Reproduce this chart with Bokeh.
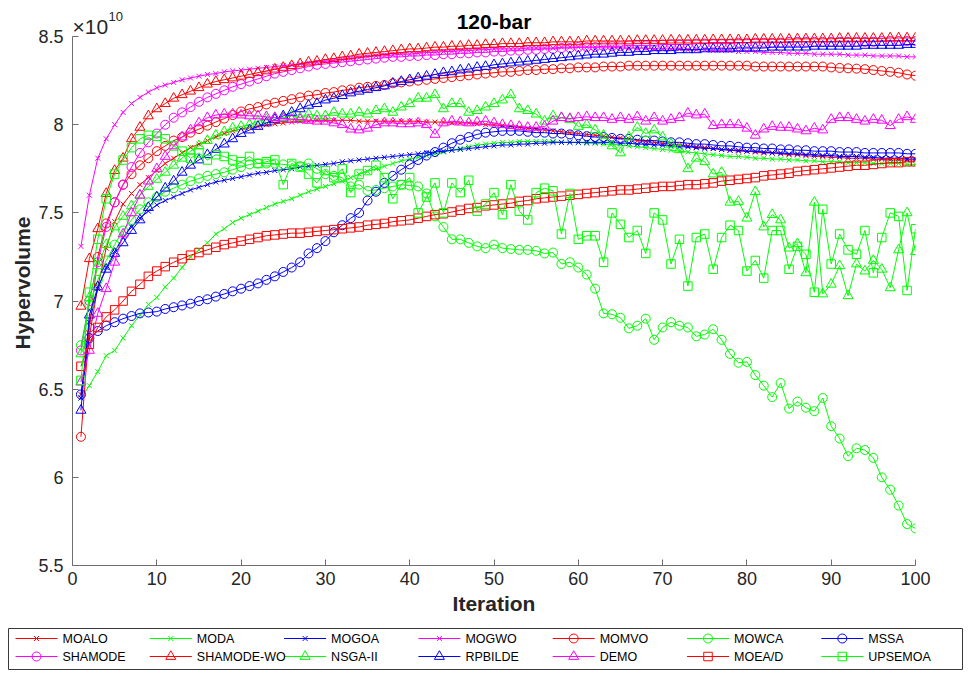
from bokeh.plotting import figure
from bokeh.models import FixedTicker, Range1d
from bokeh.layouts import column
from bokeh.embed import file_html
from bokeh.resources import INLINE
from bokeh.core.properties import value

# ---------------- data (hypervolume in units of 1e10) ----------------
iterations = list(range(1, 101))
x_ticks = [0, 10, 20, 30, 40, 50, 60, 70, 80, 90, 100]
y_ticks = [5.5, 6.0, 6.5, 7.0, 7.5, 8.0, 8.5]
y_tick_labels = ["5.5", "6", "6.5", "7", "7.5", "8", "8.5"]
chart_title = "120-bar"
exponent_base = "\u00d710"
exponent_power = "10"

moalo = [6.47, 6.80, 7.08, 7.30, 7.45, 7.55, 7.61, 7.66, 7.70, 7.74,
         7.78, 7.81, 7.84, 7.87, 7.89, 7.91, 7.93, 7.95, 7.965, 7.975,
         7.985, 7.99, 8.0, 8.005, 8.01, 8.015, 8.02, 8.02, 8.025, 8.025,
         8.025, 8.025, 8.025, 8.02, 8.02, 8.02, 8.02, 8.02, 8.02, 8.02,
         8.02, 8.015, 8.015, 8.015, 8.01, 8.01, 8.01, 8.005, 8.0, 8.0,
         7.995, 7.99, 7.985, 7.98, 7.975, 7.97, 7.965, 7.96, 7.955, 7.95,
         7.945, 7.94, 7.935, 7.93, 7.925, 7.92, 7.91, 7.905, 7.90, 7.895,
         7.89, 7.885, 7.88, 7.875, 7.87, 7.865, 7.86, 7.855, 7.85, 7.85,
         7.845, 7.84, 7.84, 7.835, 7.83, 7.83, 7.825, 7.82, 7.82, 7.815,
         7.815, 7.81, 7.81, 7.81, 7.805, 7.805, 7.80, 7.80, 7.80, 7.80]
moda = [6.45, 6.52, 6.60, 6.69, 6.72, 6.79, 6.86, 6.92, 6.98, 7.02,
        7.08, 7.13, 7.19, 7.25, 7.29, 7.33, 7.38, 7.41, 7.445, 7.47,
        7.49, 7.51, 7.53, 7.55, 7.565, 7.58, 7.60, 7.62, 7.635, 7.65,
        7.665, 7.68, 7.70, 7.72, 7.735, 7.75, 7.765, 7.78, 7.795, 7.805,
        7.815, 7.825, 7.835, 7.845, 7.855, 7.865, 7.875, 7.885, 7.89, 7.895,
        7.90, 7.90, 7.905, 7.905, 7.905, 7.905, 7.905, 7.90, 7.90, 7.90,
        7.895, 7.895, 7.89, 7.89, 7.885, 7.88, 7.875, 7.87, 7.865, 7.86,
        7.855, 7.85, 7.845, 7.84, 7.835, 7.83, 7.825, 7.82, 7.82, 7.815,
        7.81, 7.81, 7.805, 7.805, 7.80, 7.80, 7.795, 7.795, 7.79, 7.79,
        7.79, 7.785, 7.785, 7.785, 7.78, 7.78, 7.78, 7.78, 7.775, 7.775]
mogoa = [6.45, 6.88, 7.07, 7.19, 7.28, 7.36, 7.42, 7.47, 7.51, 7.545,
         7.57, 7.59, 7.61, 7.63, 7.645, 7.66, 7.675, 7.685, 7.695, 7.705,
         7.715, 7.725, 7.73, 7.74, 7.745, 7.75, 7.76, 7.765, 7.77, 7.775,
         7.78, 7.79, 7.795, 7.80, 7.805, 7.81, 7.815, 7.82, 7.825, 7.83,
         7.835, 7.84, 7.845, 7.85, 7.855, 7.86, 7.865, 7.87, 7.875, 7.88,
         7.885, 7.885, 7.89, 7.89, 7.895, 7.895, 7.90, 7.90, 7.90, 7.90,
         7.90, 7.90, 7.90, 7.90, 7.895, 7.895, 7.89, 7.89, 7.885, 7.885,
         7.88, 7.875, 7.875, 7.87, 7.865, 7.865, 7.86, 7.855, 7.855, 7.85,
         7.85, 7.845, 7.84, 7.84, 7.835, 7.835, 7.83, 7.83, 7.825, 7.825,
         7.82, 7.82, 7.82, 7.815, 7.815, 7.81, 7.81, 7.81, 7.805, 7.805]
mogwo = [7.31, 7.60, 7.81, 7.92, 8.00, 8.07, 8.12, 8.155, 8.185, 8.21,
         8.225, 8.24, 8.255, 8.265, 8.275, 8.285, 8.29, 8.30, 8.305, 8.31,
         8.315, 8.32, 8.325, 8.33, 8.335, 8.34, 8.345, 8.35, 8.355, 8.36,
         8.365, 8.37, 8.375, 8.38, 8.385, 8.39, 8.39, 8.395, 8.40, 8.40,
         8.405, 8.41, 8.41, 8.415, 8.415, 8.42, 8.42, 8.425, 8.425, 8.43,
         8.43, 8.43, 8.43, 8.435, 8.435, 8.435, 8.435, 8.44, 8.44, 8.44,
         8.44, 8.44, 8.44, 8.44, 8.435, 8.435, 8.435, 8.435, 8.43, 8.43,
         8.43, 8.43, 8.425, 8.425, 8.425, 8.42, 8.42, 8.42, 8.415, 8.415,
         8.415, 8.41, 8.41, 8.41, 8.405, 8.405, 8.405, 8.40, 8.40, 8.40,
         8.40, 8.395, 8.395, 8.395, 8.39, 8.39, 8.39, 8.39, 8.385, 8.385]
momvo = [6.23, 6.85, 7.25, 7.44, 7.56, 7.66, 7.72, 7.77, 7.81, 7.85,
         7.88, 7.91, 7.93, 7.955, 7.975, 7.995, 8.015, 8.035, 8.055, 8.075,
         8.09, 8.10, 8.115, 8.125, 8.135, 8.145, 8.155, 8.165, 8.17, 8.18,
         8.185, 8.195, 8.20, 8.21, 8.215, 8.22, 8.225, 8.235, 8.24, 8.245,
         8.25, 8.255, 8.26, 8.265, 8.27, 8.275, 8.28, 8.285, 8.29, 8.295,
         8.30, 8.30, 8.305, 8.31, 8.31, 8.315, 8.315, 8.32, 8.32, 8.325,
         8.325, 8.325, 8.33, 8.33, 8.33, 8.335, 8.335, 8.335, 8.335, 8.335,
         8.335, 8.335, 8.335, 8.335, 8.335, 8.335, 8.335, 8.335, 8.335, 8.335,
         8.33, 8.33, 8.33, 8.33, 8.33, 8.33, 8.33, 8.33, 8.33, 8.325,
         8.322, 8.32, 8.318, 8.315, 8.31, 8.305, 8.30, 8.295, 8.285, 8.278]
mowca = [6.75, 6.98, 7.12, 7.23, 7.32, 7.40, 7.46, 7.52, 7.56, 7.59,
         7.62, 7.64, 7.66, 7.68, 7.695, 7.71, 7.72, 7.73, 7.745, 7.76,
         7.775, 7.78, 7.78, 7.78, 7.775, 7.77, 7.765, 7.78, 7.75, 7.72,
         7.71, 7.70, 7.65, 7.66, 7.625, 7.63, 7.64, 7.65, 7.66, 7.655,
         7.65, 7.61, 7.48, 7.42, 7.35, 7.35, 7.33, 7.31, 7.30, 7.32,
         7.30, 7.295, 7.29, 7.29, 7.285, 7.27, 7.275, 7.21, 7.22, 7.19,
         7.15, 7.07, 6.93, 6.925, 6.905, 6.845, 6.86, 6.90, 6.78, 6.85,
         6.88, 6.86, 6.85, 6.80, 6.81, 6.84, 6.78, 6.70, 6.65, 6.655,
         6.58, 6.52, 6.455, 6.535, 6.39, 6.43, 6.395, 6.375, 6.45, 6.29,
         6.22, 6.12, 6.165, 6.155, 6.11, 6.00, 5.93, 5.84, 5.735, 5.71]
mssa = [6.47, 6.79, 6.83, 6.86, 6.88, 6.90, 6.915, 6.93, 6.935, 6.94,
        6.955, 6.965, 6.975, 6.985, 7.0, 7.01, 7.025, 7.04, 7.055, 7.07,
        7.085, 7.10, 7.12, 7.14, 7.165, 7.19, 7.22, 7.27, 7.30, 7.34,
        7.39, 7.43, 7.47, 7.50, 7.57, 7.62, 7.67, 7.71, 7.745, 7.775,
        7.80, 7.825, 7.845, 7.87, 7.895, 7.915, 7.93, 7.945, 7.955, 7.96,
        7.965, 7.965, 7.965, 7.96, 7.955, 7.955, 7.95, 7.95, 7.945, 7.94,
        7.935, 7.93, 7.93, 7.925, 7.92, 7.92, 7.915, 7.91, 7.91, 7.905,
        7.90, 7.90, 7.895, 7.89, 7.89, 7.885, 7.88, 7.88, 7.875, 7.87,
        7.87, 7.865, 7.865, 7.86, 7.86, 7.855, 7.855, 7.85, 7.85, 7.85,
        7.845, 7.845, 7.845, 7.84, 7.84, 7.84, 7.84, 7.84, 7.835, 7.835]
shamode = [6.72, 7.00, 7.22, 7.42, 7.56, 7.66, 7.76, 7.84, 7.90, 7.95,
           8.0, 8.04, 8.07, 8.10, 8.13, 8.155, 8.175, 8.195, 8.215, 8.23,
           8.245, 8.26, 8.275, 8.29, 8.30, 8.31, 8.32, 8.33, 8.34, 8.345,
           8.35, 8.355, 8.36, 8.365, 8.37, 8.375, 8.38, 8.385, 8.385, 8.39,
           8.39, 8.395, 8.395, 8.40, 8.40, 8.405, 8.405, 8.41, 8.41, 8.415,
           8.415, 8.42, 8.42, 8.425, 8.425, 8.43, 8.43, 8.435, 8.435, 8.44,
           8.44, 8.44, 8.445, 8.445, 8.445, 8.45, 8.45, 8.45, 8.45, 8.455,
           8.455, 8.455, 8.455, 8.46, 8.46, 8.46, 8.46, 8.46, 8.465, 8.465,
           8.465, 8.465, 8.465, 8.465, 8.47, 8.47, 8.47, 8.47, 8.47, 8.47,
           8.47, 8.47, 8.47, 8.47, 8.47, 8.475, 8.475, 8.475, 8.475, 8.475]
shamode_wo = [6.97, 7.24, 7.41, 7.61, 7.74, 7.81, 7.92, 7.985, 8.05, 8.09,
              8.12, 8.15, 8.17, 8.19, 8.21, 8.23, 8.245, 8.255, 8.265, 8.275,
              8.285, 8.295, 8.305, 8.315, 8.325, 8.335, 8.345, 8.355, 8.36, 8.37,
              8.375, 8.385, 8.39, 8.40, 8.405, 8.41, 8.415, 8.42, 8.425, 8.43,
              8.43, 8.435, 8.44, 8.44, 8.445, 8.445, 8.45, 8.45, 8.455, 8.455,
              8.46, 8.46, 8.46, 8.465, 8.465, 8.465, 8.47, 8.47, 8.47, 8.47,
              8.475, 8.475, 8.475, 8.475, 8.475, 8.475, 8.478, 8.478, 8.478, 8.478,
              8.48, 8.48, 8.48, 8.48, 8.48, 8.482, 8.482, 8.482, 8.482, 8.482,
              8.485, 8.485, 8.485, 8.485, 8.485, 8.487, 8.487, 8.487, 8.487, 8.487,
              8.49, 8.49, 8.49, 8.49, 8.49, 8.49, 8.492, 8.492, 8.492, 8.492]
nsga2 = [6.70, 7.02, 7.20, 7.32, 7.42, 7.48, 7.54, 7.60, 7.65, 7.69,
         7.73, 7.77, 7.81, 7.85, 7.88, 7.91, 7.94, 7.96, 7.98, 7.99,
         8.00, 8.02, 8.03, 8.04, 8.04, 8.05, 8.04, 8.06, 8.05, 8.05,
         8.07, 8.06, 8.06, 8.07, 8.06, 8.08, 8.09, 8.07, 8.10, 8.12,
         8.15, 8.15, 8.17, 8.09, 8.12, 8.12, 8.07, 8.08, 8.10, 8.12,
         8.14, 8.17, 8.09, 8.08, 8.06, 8.02, 8.05, 8.04, 8.03, 7.99,
         8.00, 7.97, 7.94, 7.88, 7.84, 7.93, 7.985, 7.95, 7.97, 7.93,
         7.89, 7.86, 7.75, 7.81, 7.79, 7.72, 7.73, 7.56, 7.565, 7.47,
         7.62, 7.42, 7.49, 7.46, 7.30, 7.325, 7.16, 7.56, 7.04, 7.095,
         7.20, 7.03, 7.21, 7.17, 7.23, 7.18, 7.075, 7.29, 7.50, 7.28]
rpbilde = [6.38, 6.92, 7.08, 7.18, 7.27, 7.33, 7.40, 7.46, 7.53, 7.59,
           7.64, 7.68, 7.73, 7.77, 7.80, 7.83, 7.86, 7.89, 7.92, 7.95,
           7.97, 7.99, 8.01, 8.03, 8.05, 8.07, 8.09, 8.11, 8.12, 8.14,
           8.15, 8.165, 8.18, 8.19, 8.20, 8.21, 8.22, 8.235, 8.245, 8.255,
           8.265, 8.275, 8.285, 8.295, 8.30, 8.31, 8.315, 8.325, 8.33, 8.34,
           8.345, 8.35, 8.355, 8.36, 8.365, 8.37, 8.375, 8.38, 8.385, 8.39,
           8.395, 8.40, 8.40, 8.405, 8.41, 8.41, 8.415, 8.415, 8.42, 8.42,
           8.42, 8.425, 8.425, 8.425, 8.43, 8.43, 8.43, 8.43, 8.435, 8.435,
           8.435, 8.435, 8.44, 8.44, 8.44, 8.44, 8.44, 8.445, 8.445, 8.445,
           8.445, 8.445, 8.445, 8.45, 8.45, 8.45, 8.45, 8.45, 8.455, 8.455]
demo = [6.54, 6.72, 6.93, 7.07, 7.22, 7.38, 7.50, 7.60, 7.68, 7.75,
        7.82, 7.88, 7.93, 7.97, 8.01, 8.04, 8.055, 8.06, 8.06, 8.055,
        8.05, 8.05, 8.045, 8.04, 8.035, 8.03, 8.03, 8.025, 8.02, 8.02,
        8.01, 8.0, 7.975, 7.97, 7.98, 8.0, 8.01, 8.01, 8.005, 8.005,
        8.01, 8.0, 7.945, 8.01, 8.02, 8.015, 8.01, 8.015, 8.02, 8.01,
        8.0, 7.995, 7.99, 7.985, 7.985, 7.99, 8.02, 8.04, 8.035, 8.04,
        8.045, 8.04, 8.04, 8.03, 8.04, 8.03, 8.045, 8.02, 8.04, 8.02,
        8.03, 8.04, 8.065, 8.055, 8.06, 7.995, 8.0, 8.0, 8.0, 7.98,
        7.94, 7.975, 7.99, 7.985, 7.985, 7.975, 7.965, 7.98, 7.97, 8.03,
        8.04, 8.04, 8.03, 8.02, 8.03, 8.025, 7.995, 8.03, 8.045, 8.03]
moead = [6.63, 6.755, 6.85, 6.91, 6.95, 7.0, 7.055, 7.095, 7.14, 7.17,
         7.195, 7.22, 7.24, 7.26, 7.275, 7.29, 7.305, 7.32, 7.33, 7.34,
         7.35, 7.36, 7.37, 7.375, 7.38, 7.385, 7.385, 7.39, 7.395, 7.40,
         7.405, 7.41, 7.415, 7.42, 7.43, 7.435, 7.44, 7.45, 7.455, 7.46,
         7.47, 7.48, 7.49, 7.495, 7.505, 7.515, 7.525, 7.53, 7.54, 7.545,
         7.55, 7.555, 7.565, 7.57, 7.58, 7.585, 7.59, 7.595, 7.60, 7.605,
         7.61, 7.615, 7.62, 7.625, 7.63, 7.63, 7.635, 7.64, 7.645, 7.65,
         7.65, 7.655, 7.66, 7.66, 7.665, 7.67, 7.68, 7.685, 7.69, 7.695,
         7.70, 7.71, 7.715, 7.72, 7.725, 7.735, 7.74, 7.745, 7.75, 7.755,
         7.76, 7.765, 7.77, 7.77, 7.775, 7.78, 7.785, 7.785, 7.79, 7.79]
upsemoa = [6.55, 7.05, 7.35, 7.58, 7.72, 7.80, 7.87, 7.92, 7.94, 7.935,
           7.92, 7.88, 7.85, 7.81, 7.84, 7.80, 7.83, 7.82, 7.80, 7.79,
           7.82, 7.78, 7.79, 7.80, 7.66, 7.78, 7.76, 7.72, 7.67, 7.74,
           7.70, 7.75, 7.615, 7.72, 7.74, 7.77, 7.70, 7.58, 7.66, 7.70,
           7.50, 7.59, 7.67, 7.50, 7.67, 7.615, 7.685, 7.51, 7.55, 7.615,
           7.49, 7.66, 7.51, 7.46, 7.615, 7.64, 7.625, 7.38, 7.61, 7.35,
           7.37, 7.37, 7.22, 7.50, 7.435, 7.36, 7.40, 7.27, 7.50, 7.46,
           7.21, 7.35, 7.085, 7.36, 7.38, 7.18, 7.36, 7.43, 7.40, 7.17,
           7.23, 7.13, 7.40, 7.40, 7.18, 7.31, 7.265, 7.05, 7.52, 7.21,
           7.38, 7.29, 7.265, 7.40, 7.16, 7.36, 7.50, 7.48, 7.06, 7.41]

series_names = ["MOALO", "MODA", "MOGOA", "MOGWO", "MOMVO", "MOWCA", "MSSA",
                "SHAMODE", "SHAMODE-WO", "NSGA-II", "RPBILDE", "DEMO", "MOEA/D", "UPSEMOA"]
series_values = [moalo, moda, mogoa, mogwo, momvo, mowca, mssa,
                 shamode, shamode_wo, nsga2, rpbilde, demo, moead, upsemoa]

# ---------------- styles ----------------
RED, GREEN, BLUE, MAG = "#FF0000", "#00FF00", "#0000FF", "#FF00FF"
colors = [RED, GREEN, BLUE, MAG, RED, GREEN, BLUE, MAG, RED, GREEN, BLUE, MAG, RED, GREEN]
markers = ["x", "x", "x", "x", "circle", "circle", "circle", "circle",
           "triangle", "triangle", "triangle", "triangle", "square", "square"]
msize = {"x": 7, "circle": 9, "triangle": 10, "square": 8.5}

FONT = "Liberation Sans"
AX = "#262626"
AXLINE = "#6e6e6e"

W = 970
FRAME_TOP = 36          # page y of the 8.5 level
PX_PER_UNIT = 176.0     # pixels per 1e10
y_lo, y_hi = y_ticks[0], y_ticks[-1]
top_pad = FRAME_TOP / PX_PER_UNIT   # frame extends above the axis to host title texts

p = figure(width=W, height=625, x_range=Range1d(0, 100),
           y_range=Range1d(y_lo, y_hi + top_pad),
           output_backend="svg", toolbar_location=None, frame_align=False,
           min_border_left=72, min_border_right=55, min_border_top=0, min_border_bottom=60)
p.outline_line_color = None
p.grid.visible = False
p.background_fill_color = "white"
p.border_fill_color = "white"

for vals, col, mk in zip(series_values, colors, markers):
    p.line(iterations, vals, line_color=col, line_width=1)
    p.scatter(iterations, vals, marker=mk, size=msize[mk], line_color=col,
              fill_color=None, line_width=1)

for ax in (p.xaxis[0], p.yaxis[0]):
    ax.axis_line_color = AXLINE
    ax.major_tick_line_color = AXLINE
    ax.minor_tick_line_color = None
    ax.major_tick_in = 6
    ax.major_tick_out = 0
    ax.major_label_text_font = FONT
    ax.major_label_text_font_size = "18px"
    ax.major_label_text_color = AX
    ax.axis_label_text_font = FONT
    ax.axis_label_text_font_size = "21px"
    ax.axis_label_text_font_style = "bold"
    ax.axis_label_text_color = AX

p.xaxis.ticker = FixedTicker(ticks=x_ticks)
p.yaxis.ticker = FixedTicker(ticks=y_ticks)
p.yaxis.bounds = (y_lo, y_hi)
p.yaxis.major_label_overrides = {t: l for t, l in zip(y_ticks, y_tick_labels)}
p.xaxis.axis_label = "Iteration"
p.yaxis.axis_label = "Hypervolume"
p.xaxis.major_label_standoff = 6
p.yaxis.major_label_standoff = 9
p.xaxis.axis_label_standoff = 4
p.yaxis.axis_label_standoff = 1

# title and exponent, drawn in the band above the axis
p.text(x=[50], y=[y_hi + 15 / PX_PER_UNIT], text=[chart_title], text_align="center",
       text_baseline="middle", text_font=value(FONT), text_font_size="21px",
       text_font_style="bold", text_color="black")
p.text(x=[0], y=[y_hi + 10 / PX_PER_UNIT], text=[exponent_base], text_align="left",
       text_baseline="middle", text_font=value(FONT), text_font_size="21px", text_color=AX)
p.text(x=[0], y=[y_hi + 20 / PX_PER_UNIT], x_offset=36, text=[exponent_power],
       text_align="left", text_baseline="middle", text_font=value(FONT),
       text_font_size="13px", text_color=AX)

# ---------------- legend (separate strip) ----------------
leg = figure(width=W, height=45, x_range=Range1d(0, 954), y_range=Range1d(0, 41),
             output_backend="svg", toolbar_location=None, x_axis_type=None, y_axis_type=None,
             frame_align=False,
             min_border_left=8, min_border_right=8, min_border_top=3, min_border_bottom=1)
leg.grid.visible = False
leg.outline_line_color = "#3a3a3a"
leg.outline_line_width = 1
leg.background_fill_color = "white"
leg.border_fill_color = "white"

ncol = 7
col_step = 134.3
lab_x, line_x0, line_x1, mk_x, row_y = [], [], [], [], []
for i in range(len(series_names)):
    c, r = i % ncol, i // ncol
    lx = 54 + col_step * c
    lab_x.append(lx)
    line_x0.append(lx - 47)
    line_x1.append(lx - 5)
    mk_x.append(lx - 26)
    row_y.append(31 if r == 0 else 13)

leg.segment(x0=line_x0, y0=row_y, x1=line_x1, y1=row_y, line_color=colors, line_width=1)
for i, mk in enumerate(markers):
    leg.scatter([mk_x[i]], [row_y[i]], marker=mk, size=msize[mk], line_color=colors[i],
                fill_color=None, line_width=1)
leg.text(x=lab_x, y=row_y, text=series_names, text_font=value(FONT), text_font_size="12.5px",
         text_baseline="middle", text_align="left", text_color="black")

layout = column(p, leg, spacing=0)
open("out.html", "w").write(file_html(layout, INLINE))
